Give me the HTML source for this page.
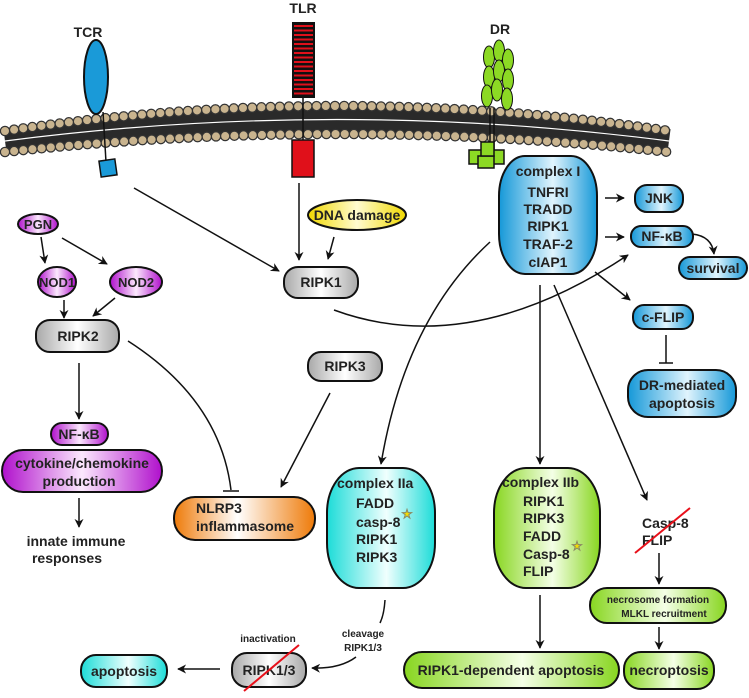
<!DOCTYPE html>
<html><head><meta charset="utf-8"><style>
html,body{margin:0;padding:0;background:#fff}
svg text{font-family:"Liberation Sans Narrow","Liberation Sans",sans-serif;font-weight:bold;fill:#222}
</style></head><body>
<svg width="749" height="693" viewBox="0 0 749 693" xmlns="http://www.w3.org/2000/svg">
<defs>
<marker id="a" viewBox="0 0 10 10" refX="9" refY="5" markerWidth="9" markerHeight="9" orient="auto" markerUnits="userSpaceOnUse"><path d="M0,0 L10,5 L0,10 L3,5z" fill="#111"/></marker>
<linearGradient id="gG"><stop offset="0" stop-color="#a8a8a8"/><stop offset=".5" stop-color="#fff"/><stop offset="1" stop-color="#a8a8a8"/></linearGradient>
<linearGradient id="gB"><stop offset="0" stop-color="#1598d8"/><stop offset=".55" stop-color="#e0f4fd"/><stop offset="1" stop-color="#1598d8"/></linearGradient>
<linearGradient id="gC"><stop offset="0" stop-color="#1cdcd8"/><stop offset=".55" stop-color="#f0fffe"/><stop offset="1" stop-color="#1cdcd8"/></linearGradient>
<linearGradient id="gGr"><stop offset="0" stop-color="#88d620"/><stop offset=".55" stop-color="#f4ffe6"/><stop offset="1" stop-color="#88d620"/></linearGradient>
<linearGradient id="gM"><stop offset="0" stop-color="#b010cc"/><stop offset=".5" stop-color="#fbe8fd"/><stop offset="1" stop-color="#b010cc"/></linearGradient>
<linearGradient id="gO"><stop offset="0" stop-color="#ee7a08"/><stop offset=".45" stop-color="#fff"/><stop offset="1" stop-color="#ee7a08"/></linearGradient>
<linearGradient id="gY"><stop offset="0" stop-color="#f0d800"/><stop offset=".5" stop-color="#fffbd0"/><stop offset="1" stop-color="#f0d800"/></linearGradient>
</defs>

<!-- membrane -->
<path d="M5,141 Q337,98 669,141" fill="none" stroke="#2a2a2a" stroke-width="24"/>
<path d="M5,141 Q337,98 669,141" fill="none" stroke="#fff" stroke-width="1.2"/>
<path d="M5,131 Q337,81 669,131" fill="none" stroke="#333" stroke-width="10.5" stroke-dasharray="0 9.2" stroke-linecap="round"/>
<path d="M5,131 Q337,81 669,131" fill="none" stroke="#c9b48f" stroke-width="8" stroke-dasharray="0 9.2" stroke-linecap="round"/>
<path d="M5,152 Q337,116 669,152" fill="none" stroke="#333" stroke-width="10.5" stroke-dasharray="0 9.2" stroke-linecap="round"/>
<path d="M5,152 Q337,116 669,152" fill="none" stroke="#c9b48f" stroke-width="8" stroke-dasharray="0 9.2" stroke-linecap="round"/>

<!-- TCR -->
<text x="88" y="37" font-size="14" text-anchor="middle">TCR</text>
<line x1="103" y1="112" x2="106" y2="162" stroke="#111" stroke-width="1.5"/>
<ellipse cx="96" cy="77" rx="12" ry="37" fill="#1a9ad8" stroke="#111" stroke-width="2"/>
<rect x="100" y="160" width="16" height="16" fill="#1a9ad8" stroke="#111" stroke-width="1.5" transform="rotate(-8 108 168)"/>

<!-- TLR -->
<text x="303" y="13" font-size="14" text-anchor="middle">TLR</text>
<rect x="292" y="22" width="23" height="76" fill="#111"/>
<g stroke="#e0101a" stroke-width="2">
<line x1="294" y1="26" x2="313" y2="26"/><line x1="294" y1="30.5" x2="313" y2="30.5"/><line x1="294" y1="35" x2="313" y2="35"/><line x1="294" y1="39.5" x2="313" y2="39.5"/><line x1="294" y1="44" x2="313" y2="44"/><line x1="294" y1="48.5" x2="313" y2="48.5"/><line x1="294" y1="53" x2="313" y2="53"/><line x1="294" y1="57.5" x2="313" y2="57.5"/><line x1="294" y1="62" x2="313" y2="62"/><line x1="294" y1="66.5" x2="313" y2="66.5"/><line x1="294" y1="71" x2="313" y2="71"/><line x1="294" y1="75.5" x2="313" y2="75.5"/><line x1="294" y1="80" x2="313" y2="80"/><line x1="294" y1="84.5" x2="313" y2="84.5"/><line x1="294" y1="89" x2="313" y2="89"/><line x1="294" y1="93.5" x2="313" y2="93.5"/></g>
<line x1="303" y1="98" x2="303" y2="140" stroke="#111" stroke-width="1.5"/>
<rect x="292" y="140" width="22" height="37" fill="#e0101a" stroke="#111" stroke-width="1.5"/>

<!-- DR -->
<text x="500" y="34" font-size="14" text-anchor="middle">DR</text>
<line x1="490" y1="108" x2="490" y2="150" stroke="#111" stroke-width="1.5"/>
<line x1="494" y1="108" x2="494" y2="150" stroke="#111" stroke-width="1.5"/>
<g fill="#8cd924" stroke="#111" stroke-width="1">
<ellipse cx="489" cy="57" rx="5.5" ry="11"/><ellipse cx="499" cy="51" rx="5.5" ry="11"/><ellipse cx="508" cy="60" rx="5.5" ry="11"/>
<ellipse cx="489" cy="77" rx="5.5" ry="11"/><ellipse cx="499" cy="71" rx="5.5" ry="11"/><ellipse cx="508" cy="80" rx="5.5" ry="11"/>
<ellipse cx="487" cy="96" rx="5.5" ry="11"/><ellipse cx="497" cy="90" rx="5.5" ry="11"/><ellipse cx="507" cy="99" rx="5.5" ry="11"/>
</g>
<g fill="#8cd924" stroke="#111" stroke-width="1.5">
<rect x="469" y="150" width="14" height="14"/><rect x="490" y="150" width="14" height="14"/><rect x="478" y="156" width="16" height="12"/><rect x="481" y="142" width="13" height="14"/>
</g>

<!-- complex I -->
<rect x="499" y="156" width="98" height="118" rx="26" ry="40" fill="url(#gB)" stroke="#111" stroke-width="2"/>
<g font-size="14" text-anchor="middle">
<text x="548" y="176">complex I</text><text x="548" y="197">TNFRI</text><text x="548" y="214">TRADD</text><text x="548" y="231">RIPK1</text><text x="548" y="249">TRAF-2</text><text x="548" y="267">cIAP1</text></g>

<!-- JNK, NF-kB, survival, c-FLIP, DR-med -->
<rect x="635" y="185" width="48" height="27" rx="12" fill="url(#gB)" stroke="#111" stroke-width="2"/>
<text x="659" y="203" font-size="14" text-anchor="middle">JNK</text>
<rect x="631" y="226" width="62" height="21" rx="10" fill="url(#gB)" stroke="#111" stroke-width="2"/>
<text x="662" y="241" font-size="14" text-anchor="middle">NF-κB</text>
<rect x="679" y="257" width="68" height="22" rx="11" fill="url(#gB)" stroke="#111" stroke-width="2"/>
<text x="713" y="273" font-size="14" text-anchor="middle">survival</text>
<rect x="633" y="305" width="60" height="24" rx="11" fill="url(#gB)" stroke="#111" stroke-width="2"/>
<text x="663" y="322" font-size="14" text-anchor="middle">c-FLIP</text>
<rect x="628" y="370" width="108" height="47" rx="20" fill="url(#gB)" stroke="#111" stroke-width="2"/>
<text x="682" y="390" font-size="14" text-anchor="middle">DR-mediated</text>
<text x="682" y="408" font-size="14" text-anchor="middle">apoptosis</text>

<g stroke="#111" stroke-width="1.5" fill="none">
<line x1="605" y1="198" x2="624" y2="198" marker-end="url(#a)"/>
<line x1="605" y1="237" x2="624" y2="237" marker-end="url(#a)"/>
<path d="M692,234 Q712,236 714,254" marker-end="url(#a)"/>
<line x1="595" y1="272" x2="630" y2="300" marker-end="url(#a)"/>
<line x1="666" y1="335" x2="666" y2="363"/><line x1="659" y1="363" x2="673" y2="363"/>
</g>

<!-- DNA damage, PGN, NODs -->
<ellipse cx="357" cy="215" rx="49" ry="15" fill="url(#gY)" stroke="#111" stroke-width="2"/>
<text x="357" y="220" font-size="14" text-anchor="middle">DNA damage</text>
<ellipse cx="38" cy="224" rx="20" ry="10" fill="url(#gM)" stroke="#111" stroke-width="2"/>
<text x="38" y="229" font-size="13" text-anchor="middle">PGN</text>
<ellipse cx="57" cy="282" rx="19" ry="15" fill="url(#gM)" stroke="#111" stroke-width="2"/>
<text x="57" y="287" font-size="13" text-anchor="middle">NOD1</text>
<ellipse cx="136" cy="282" rx="26" ry="15" fill="url(#gM)" stroke="#111" stroke-width="2"/>
<text x="136" y="287" font-size="13" text-anchor="middle">NOD2</text>

<!-- RIPK1, RIPK2, RIPK3 -->
<rect x="284" y="267" width="74" height="31" rx="14" fill="url(#gG)" stroke="#111" stroke-width="2"/>
<text x="321" y="287" font-size="14" text-anchor="middle">RIPK1</text>
<rect x="36" y="320" width="83" height="32" rx="14" fill="url(#gG)" stroke="#111" stroke-width="2"/>
<text x="78" y="341" font-size="14" text-anchor="middle">RIPK2</text>
<rect x="308" y="352" width="74" height="29" rx="13" fill="url(#gG)" stroke="#111" stroke-width="2"/>
<text x="345" y="371" font-size="14" text-anchor="middle">RIPK3</text>

<g stroke="#111" stroke-width="1.5" fill="none">
<line x1="134" y1="188" x2="279" y2="271" marker-end="url(#a)"/>
<line x1="299" y1="183" x2="299" y2="260" marker-end="url(#a)"/>
<line x1="334" y1="237" x2="328" y2="259" marker-end="url(#a)"/>
<line x1="41" y1="237" x2="45" y2="263" marker-end="url(#a)"/>
<line x1="62" y1="238" x2="107" y2="264" marker-end="url(#a)"/>
<line x1="64" y1="300" x2="64" y2="318" marker-end="url(#a)"/>
<line x1="115" y1="298" x2="93" y2="316" marker-end="url(#a)"/>
<line x1="79" y1="363" x2="79" y2="419" marker-end="url(#a)"/>
<line x1="79" y1="498" x2="79" y2="527" marker-end="url(#a)"/>
<path d="M128,341 Q220,400 231,490"/><line x1="223" y1="491" x2="239" y2="491"/>
<path d="M334,310 Q470,360 628,255" marker-end="url(#a)"/>
<line x1="330" y1="393" x2="281" y2="487" marker-end="url(#a)"/>
<path d="M490,242 Q405,320 381,464" marker-end="url(#a)"/>
<line x1="540" y1="285" x2="540" y2="464" marker-end="url(#a)"/>
<line x1="554" y1="285" x2="647" y2="500" marker-end="url(#a)"/>
<line x1="540" y1="595" x2="540" y2="648" marker-end="url(#a)"/>
<line x1="659" y1="553" x2="659" y2="584" marker-end="url(#a)"/>
<line x1="659" y1="627" x2="659" y2="649" marker-end="url(#a)"/>
<path d="M385,600 Q384,615 380,623"/>
<path d="M356,657 Q340,669 312,668" marker-end="url(#a)"/>
<line x1="220" y1="669" x2="178" y2="669" marker-end="url(#a)"/>
</g>

<!-- left magenta -->
<rect x="51" y="423" width="57" height="22" rx="11" fill="url(#gM)" stroke="#111" stroke-width="2"/>
<text x="79" y="439" font-size="14" text-anchor="middle">NF-κB</text>
<rect x="2" y="450" width="160" height="42" rx="21" fill="url(#gM)" stroke="#111" stroke-width="2"/>
<text x="82" y="468" font-size="14" text-anchor="middle">cytokine/chemokine</text>
<text x="79" y="486" font-size="14" text-anchor="middle">production</text>
<text x="76" y="546" font-size="14" text-anchor="middle">innate immune</text>
<text x="67" y="563" font-size="14" text-anchor="middle">responses</text>

<!-- NLRP3 -->
<rect x="174" y="497" width="141" height="43" rx="21" fill="url(#gO)" stroke="#111" stroke-width="2"/>
<text x="196" y="513" font-size="14">NLRP3</text>
<text x="196" y="531" font-size="14">inflammasome</text>

<!-- complex IIa -->
<rect x="327" y="468" width="108" height="120" rx="32" ry="45" fill="url(#gC)" stroke="#111" stroke-width="2"/>
<g font-size="14"><text x="337" y="488">complex IIa</text><text x="356" y="508">FADD</text><text x="356" y="527">casp-8</text><text x="356" y="544">RIPK1</text><text x="356" y="562">RIPK3</text></g>
<text x="407" y="518" font-size="12" text-anchor="middle" style="fill:#f5e000;stroke:#886;stroke-width:.5">★</text>

<!-- complex IIb -->
<rect x="494" y="468" width="106" height="120" rx="32" ry="45" fill="url(#gGr)" stroke="#111" stroke-width="2"/>
<g font-size="14"><text x="502" y="487">complex IIb</text><text x="523" y="506">RIPK1</text><text x="523" y="523">RIPK3</text><text x="523" y="541">FADD</text><text x="523" y="559">Casp-8</text><text x="523" y="576">FLIP</text></g>
<text x="577" y="550" font-size="12" text-anchor="middle" style="fill:#f5e000;stroke:#886;stroke-width:.5">★</text>

<!-- casp-8 FLIP -->
<text x="642" y="528" font-size="14">Casp-8</text>
<text x="642" y="545" font-size="14">FLIP</text>
<line x1="690" y1="508" x2="635" y2="553" stroke="#e8101a" stroke-width="2"/>

<rect x="590" y="588" width="136" height="35" rx="17" fill="url(#gGr)" stroke="#111" stroke-width="2"/>
<text x="658" y="603" font-size="10" text-anchor="middle">necrosome formation</text>
<text x="664" y="617" font-size="10" text-anchor="middle">MLKL recruitment</text>
<rect x="624" y="652" width="90" height="37" rx="17" fill="url(#gGr)" stroke="#111" stroke-width="2"/>
<text x="669" y="675" font-size="14" text-anchor="middle">necroptosis</text>
<rect x="404" y="652" width="215" height="36" rx="18" fill="url(#gGr)" stroke="#111" stroke-width="2"/>
<text x="511" y="675" font-size="14" text-anchor="middle">RIPK1-dependent apoptosis</text>

<!-- bottom left -->
<text x="363" y="637" font-size="10" text-anchor="middle">cleavage</text>
<text x="363" y="651" font-size="10" text-anchor="middle">RIPK1/3</text>
<text x="268" y="642" font-size="10" text-anchor="middle">inactivation</text>
<rect x="232" y="653" width="74" height="34" rx="15" fill="url(#gG)" stroke="#111" stroke-width="2"/>
<text x="269" y="675" font-size="14" text-anchor="middle">RIPK1/3</text>
<line x1="299" y1="645" x2="244" y2="691" stroke="#e8101a" stroke-width="2"/>
<rect x="81" y="655" width="86" height="32" rx="15" fill="url(#gC)" stroke="#111" stroke-width="2"/>
<text x="124" y="676" font-size="14" text-anchor="middle">apoptosis</text>
</svg>
</body></html>
